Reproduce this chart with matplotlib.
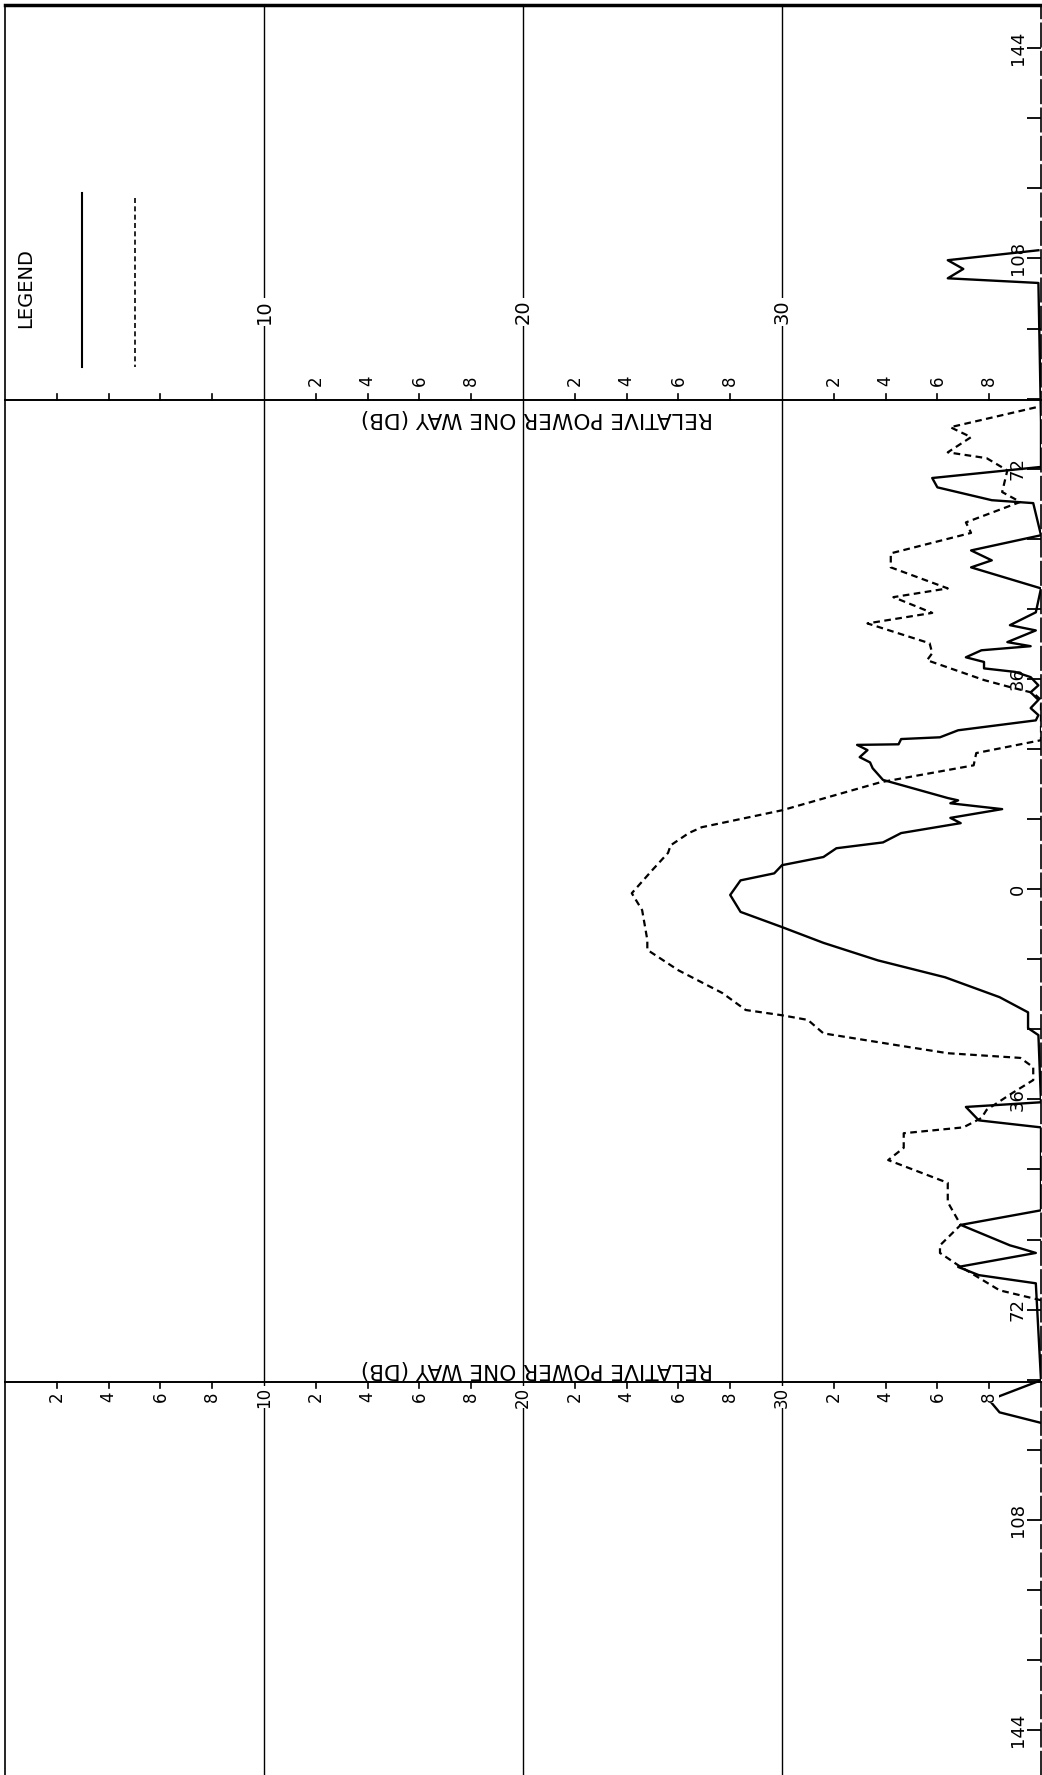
import numpy as np
import matplotlib.pyplot as plt
from matplotlib.lines import Line2D

# Relative power (dB on the chart scale) against angle (degrees)
solid_db = [39.9, 36.4, 37.0, 36.4, 39.9, 40.0, 40.0, 35.8, 36.0, 38.1, 39.7,
            40.0, 37.3, 38.1, 37.3, 40.0, 39.8, 38.8, 39.8, 38.7, 39.6, 37.7,
            37.1, 37.8, 37.8, 39.0, 39.6, 39.9, 39.6, 39.9, 39.6, 39.9, 39.8,
            36.8, 36.1, 34.6, 34.5, 32.9, 33.3, 33.0, 33.4, 33.5, 33.9, 36.4,
            36.8, 36.5, 38.5, 36.5, 36.9, 34.6, 33.9, 32.1, 31.6, 30.0, 29.7,
            28.4, 28.0, 28.4, 30.0, 31.6, 33.7, 36.3, 38.4, 39.5, 39.5, 39.9,
            40.0, 37.1, 37.6, 40.0, 40.0, 36.9, 38.8, 39.2, 39.8, 36.8, 37.6,
            39.8, 40.0, 38.0, 38.4, 40.0]
solid_deg = [-109.4, -107.7, -106.2, -104.6, -103.8, -80.0, -72.3, -70.4, -68.8,
             -66.6, -66.1, -60.6, -58.0, -56.3, -55.1, -51.5, -47.4, -45.2, -44.3,
             -42.3, -41.6, -40.9, -39.7, -38.9, -37.8, -37.2, -36.3, -34.9, -33.7,
             -32.4, -31.0, -29.8, -28.9, -27.2, -26.0, -25.7, -24.8, -24.7, -23.8,
             -22.6, -21.7, -20.7, -18.7, -15.6, -15.2, -14.7, -13.7, -12.2, -11.3,
             -9.6, -8.0, -7.0, -5.5, -4.1, -2.7, -1.5, 1.0, 3.9, 6.5, 9.2, 12.2,
             15.1, 18.5, 21.1, 23.8, 25.0, 36.5, 37.3, 39.6, 40.8, 55.0, 57.5,
             61.0, 61.5, 62.3, 64.7, 66.1, 67.5, 84.1, 87.5, 89.6, 91.4]

dash_db = [39.8, 36.5, 37.3, 36.4, 37.9, 38.7, 38.5, 39.2, 37.1, 37.3, 34.2,
           34.2, 36.4, 34.3, 35.8, 33.3, 35.7, 35.8, 35.6, 37.8, 38.8, 39.7,
           40.0, 40.0, 37.5, 37.4, 33.8, 30.0, 26.9, 26.4, 25.7, 25.6, 25.0,
           24.2, 24.6, 24.8, 24.8, 26.0, 27.7, 28.6, 30.0, 31.0, 31.6, 34.4,
           36.4, 39.2, 39.7, 39.7, 38.9, 37.9, 37.7, 37.0, 34.7, 34.7, 34.1,
           36.4, 36.4, 36.9, 36.1, 36.1, 36.8, 38.4, 40.0]
dash_deg = [-82.5, -79.1, -77.4, -74.8, -73.8, -71.7, -68.0, -66.3, -62.8, -61.0,
            -57.5, -55.1, -51.5, -50.0, -47.3, -45.5, -42.1, -40.4, -39.2, -35.8,
            -34.6, -33.6, -32.4, -25.5, -23.3, -21.2, -18.3, -13.5, -10.6, -9.6,
            -7.5, -6.2, -3.3, 0.7, 3.6, 8.7, 10.4, 13.9, 17.8, 20.7, 21.6, 22.4,
            24.7, 26.7, 28.1, 28.9, 30.5, 32.7, 34.9, 37.8, 39.2, 40.8, 41.8,
            44.3, 46.4, 50.3, 53.6, 57.5, 61.0, 62.3, 64.4, 68.7, 70.4]

grid_db = [10, 20, 30]
even_db = [2, 4, 6, 8, 12, 14, 16, 18, 22, 24, 26, 28, 32, 34, 36, 38]
angle_ticks = list(range(-144, 145, 12))
angle_labels = [-144, -108, -72, -36, 0, 36, 72, 108, 144]
axis_title = 'RELATIVE POWER ONE WAY (DB)'

W, H = 1042, 1775
fig = plt.figure(figsize=(W / 100, H / 100), dpi=100)
ax = fig.add_axes([5 / W, 0, 1036 / W, 1 - 5 / H])
ax.set_xlim(0, 40)
ax.set_ylim(151.7, -151.4)


def fy(py):
    # pixel row -> axes fraction
    return (H - py) / (H - 5)


tx = ax.get_xaxis_transform()

for g in grid_db:
    ax.axvline(g, color='black', lw=1.0, zorder=1)

ax.plot(solid_db, solid_deg, color='black', lw=1.7, zorder=3)
ax.plot(dash_db, dash_deg, color='black', lw=1.6, dashes=(3, 2), zorder=3)

# frame and angle ticks
ax.spines['left'].set_linewidth(1.2)
ax.spines['right'].set_linewidth(1.2)
ax.spines['right'].set_linestyle((0, (14, 3)))
ax.spines['top'].set_linewidth(2.5)
ax.spines['bottom'].set_visible(False)
ax.set_xticks([])
ax.set_yticks(angle_ticks)
ax.yaxis.set_ticks_position('right')
ax.tick_params(axis='y', direction='in', length=10, width=1.3,
               labelright=False, labelleft=False)
for a in angle_labels:
    ax.text(1 - 23 / 1036, a, str(abs(a)), transform=ax.get_yaxis_transform(),
            rotation=90, ha='center', va='center', fontsize=13)

# the two horizontal dB scales
for py, up in [(400, True), (1382, False)]:
    f = fy(py)
    ax.plot([0, 40], [f, f], color='black', lw=1.4, transform=tx, clip_on=False)
    d = 6 / (H - 5)
    for v in even_db:
        ax.plot([v, v], [f, f + d if up else f - d], color='black', lw=1.2,
                transform=tx)

for v in even_db[4:]:
    ax.text(v, fy(381), str(v % 10), transform=tx, rotation=90,
            ha='center', va='center', fontsize=12)
for g in grid_db:
    ax.text(g, fy(312), str(g), transform=tx, rotation=90, ha='center',
            va='center', fontsize=14,
            bbox=dict(facecolor='white', edgecolor='none', pad=1))
for v in even_db + grid_db:
    lab = str(v) if v in grid_db else str(v % 10)
    ax.text(v, fy(1397), lab, transform=tx, rotation=90, ha='center',
            va='center', fontsize=12,
            bbox=dict(facecolor='white', edgecolor='none', pad=0.5))

ax.text(537 / W, 1 - 418 / H, axis_title, transform=fig.transFigure,
        rotation=180, ha='center', va='center', fontsize=15.6)
ax.text(537 / W, 1 - 1369 / H, axis_title, transform=fig.transFigure,
        rotation=180, ha='center', va='center', fontsize=15.6)

# legend block
fig.text(26 / W, 1 - 288 / H, 'LEGEND', rotation=90, ha='center',
         va='center', fontsize=14)
fig.add_artist(Line2D([82 / W, 82 / W], [1 - 193 / H, 1 - 367 / H],
                      color='black', lw=1.5))
fig.add_artist(Line2D([135 / W, 135 / W], [1 - 198 / H, 1 - 367 / H],
                      color='black', lw=1.2, dashes=(3, 2)))

fig.savefig('out.png', dpi=100, facecolor='white')
